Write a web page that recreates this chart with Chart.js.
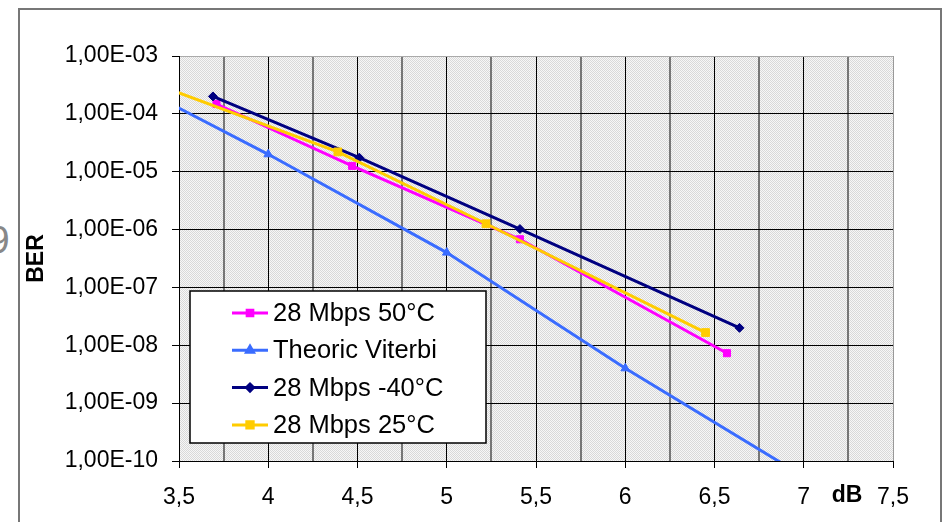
<!DOCTYPE html>
<html>
<head>
<meta charset="utf-8">
<script src="https://cdn.jsdelivr.net/npm/chart.js@4.4.1/dist/chart.umd.min.js"></script>
<style>
  body { margin: 0; background: #fff; overflow: hidden; }
  #wrap { position: relative; width: 947px; height: 522px; }
  #frame { position: absolute; left: 18px; top: 8px; width: 920px; height: 600px; border: 2px solid #777; border-bottom: none; }
  #cut { position: absolute; left: -12px; top: 218px; font: 39px "Liberation Sans", Arial, sans-serif; color: #888; }
  canvas { position: absolute; left: 0; top: 0; }
</style>
</head>
<body>
<div id="wrap">
  <div id="frame"></div>
  <div id="cut">9</div>
  <canvas id="ber" width="947" height="522"></canvas>
</div>
<script>
// Datos (x = dB, y = BER)
const seriesNames = ['28 Mbps 50°C', 'Theoric Viterbi', '28 Mbps -40°C', '28 Mbps 25°C'];

const db50 = [3.71, 4.47, 5.41, 6.57];
const ber50 = [1.48e-4, 1.26e-5, 6.8e-7, 7.3e-9];

const dbViterbi = [3, 4, 5, 6, 7];
const berViterbi = [7.9e-4, 2.0e-5, 4.0e-7, 4.0e-9, 5.4e-11];

const dbM40 = [3.69, 4.51, 5.41, 6.64];
const berM40 = [2.0e-4, 1.75e-5, 1.02e-6, 2.0e-8];

const db25 = [3.4, 4.39, 5.22, 6.45];
const ber25 = [3.0e-4, 2.2e-5, 1.26e-6, 1.66e-8];

const yDecades = [1e-10, 1e-9, 1e-8, 1e-7, 1e-6, 1e-5, 1e-4, 1e-3];

const FONT = '"Liberation Sans", Arial, sans-serif';
const pts = (xs, ys) => xs.map((x, i) => ({ x: x, y: ys[i] }));
const isMajor = v => Math.abs(v * 2 - Math.round(v * 2)) < 1e-6;
const fmtBer = v => {
  const e = Math.round(Math.log10(v));
  return '1,00E' + (e < 0 ? '-' : '+') + String(Math.abs(e)).padStart(2, '0');
};

function serie(label, data, color, style, radius, order) {
  return {
    label: label, data: data, order: order,
    borderColor: color, backgroundColor: color,
    borderWidth: 3, tension: 0,
    pointStyle: style, pointRadius: radius, pointHoverRadius: radius,
    pointBorderWidth: 1, pointBorderColor: color, pointBackgroundColor: color
  };
}

// fondo punteado del area del grafico
const fondo = {
  id: 'fondo',
  beforeDraw(chart) {
    const a = chart.chartArea, ctx = chart.ctx;
    const c = document.createElement('canvas');
    c.width = 2; c.height = 2;
    const p = c.getContext('2d');
    p.fillStyle = '#f7f7f7'; p.fillRect(0, 0, 2, 2);
    p.fillStyle = '#d9d9d9'; p.fillRect(0, 0, 1, 1); p.fillRect(1, 1, 1, 1);
    ctx.save();
    ctx.fillStyle = ctx.createPattern(c, 'repeat');
    ctx.fillRect(a.left, a.top, a.right - a.left, a.bottom - a.top);
    ctx.restore();
  }
};

// leyenda dentro del area + titulo "dB"
const leyenda = {
  id: 'leyenda',
  afterDraw(chart) {
    const ctx = chart.ctx;
    ctx.save();
    ctx.fillStyle = '#fff';
    ctx.fillRect(190, 291, 296, 152);
    ctx.strokeStyle = '#000';
    ctx.lineWidth = 1.5;
    ctx.strokeRect(190, 291, 296, 152);
    ctx.font = '25.5px ' + FONT;
    ctx.textBaseline = 'middle';
    chart.data.datasets.forEach((ds, i) => {
      const y = 313 + i * 37.3;
      ctx.strokeStyle = ds.borderColor;
      ctx.lineWidth = 3;
      ctx.beginPath(); ctx.moveTo(232, y); ctx.lineTo(268, y); ctx.stroke();
      ctx.fillStyle = ds.borderColor;
      Chart.helpers.drawPoint(ctx, { pointStyle: ds.pointStyle, radius: ds.pointRadius - 1, borderWidth: 1, rotation: 0 }, 250, y);
      ctx.fill();
      ctx.fillStyle = '#000';
      ctx.fillText(ds.label, 273, y + 1);
    });
    ctx.font = 'bold 23px ' + FONT;
    ctx.textAlign = 'center';
    ctx.fillText('dB', 847, 496);
    ctx.restore();
  }
};

new Chart(document.getElementById('ber'), {
  type: 'line',
  data: {
    datasets: [
      serie(seriesNames[0], pts(db50, ber50), '#ff00ff', 'rect', 5, 4),
      serie(seriesNames[1], pts(dbViterbi, berViterbi), '#3a6cff', 'triangle', 5, 3),
      serie(seriesNames[2], pts(dbM40, berM40), '#000080', 'rectRot', 4.5, 2),
      serie(seriesNames[3], pts(db25, ber25), '#ffcc00', 'rect', 5.5, 1)
    ]
  },
  options: {
    responsive: false,
    animation: false,
    layout: { padding: { top: 56, right: 54, left: 0, bottom: 0 } },
    plugins: { legend: { display: false }, tooltip: { enabled: false } },
    scales: {
      x: {
        type: 'linear', min: 3.5, max: 7.5,
        afterFit: s => { s.height = 61; },
        ticks: {
          stepSize: 0.25, autoSkip: false, maxRotation: 0, padding: 16,
          color: '#000', font: { family: FONT, size: 23 },
          callback: v => isMajor(v) ? String(v).replace('.', ',') : ''
        },
        grid: {
          tickLength: 7,
          color: c => c.tick && c.tick.value >= 7.5 ? '#999' : (c.tick && isMajor(c.tick.value) ? '#000' : '#777'),
          lineWidth: c => c.tick && !isMajor(c.tick.value) ? 2 : 1,
          tickColor: c => c.tick && isMajor(c.tick.value) ? '#000' : 'rgba(0,0,0,0)'
        },
        border: { display: true, color: '#000', width: 1 }
      },
      y: {
        type: 'logarithmic', min: 1e-10, max: 1e-3,
        afterFit: s => { s.width = 179; },
        afterBuildTicks: s => { s.ticks = yDecades.map(v => ({ value: v })); },
        ticks: {
          padding: 14, color: '#000', font: { family: FONT, size: 23 },
          callback: v => fmtBer(v)
        },
        grid: {
          tickLength: 7,
          color: c => c.tick && c.tick.value >= 1e-3 ? '#aaa' : '#000',
          tickColor: '#000'
        },
        border: { display: true, color: '#000', width: 1 },
        title: {
          display: true, text: 'BER', color: '#000',
          font: { family: FONT, size: 23, weight: 'bold' },
          padding: { top: 23, bottom: 0 }
        }
      }
    }
  },
  plugins: [fondo, leyenda]
});
</script>
</body>
</html>
